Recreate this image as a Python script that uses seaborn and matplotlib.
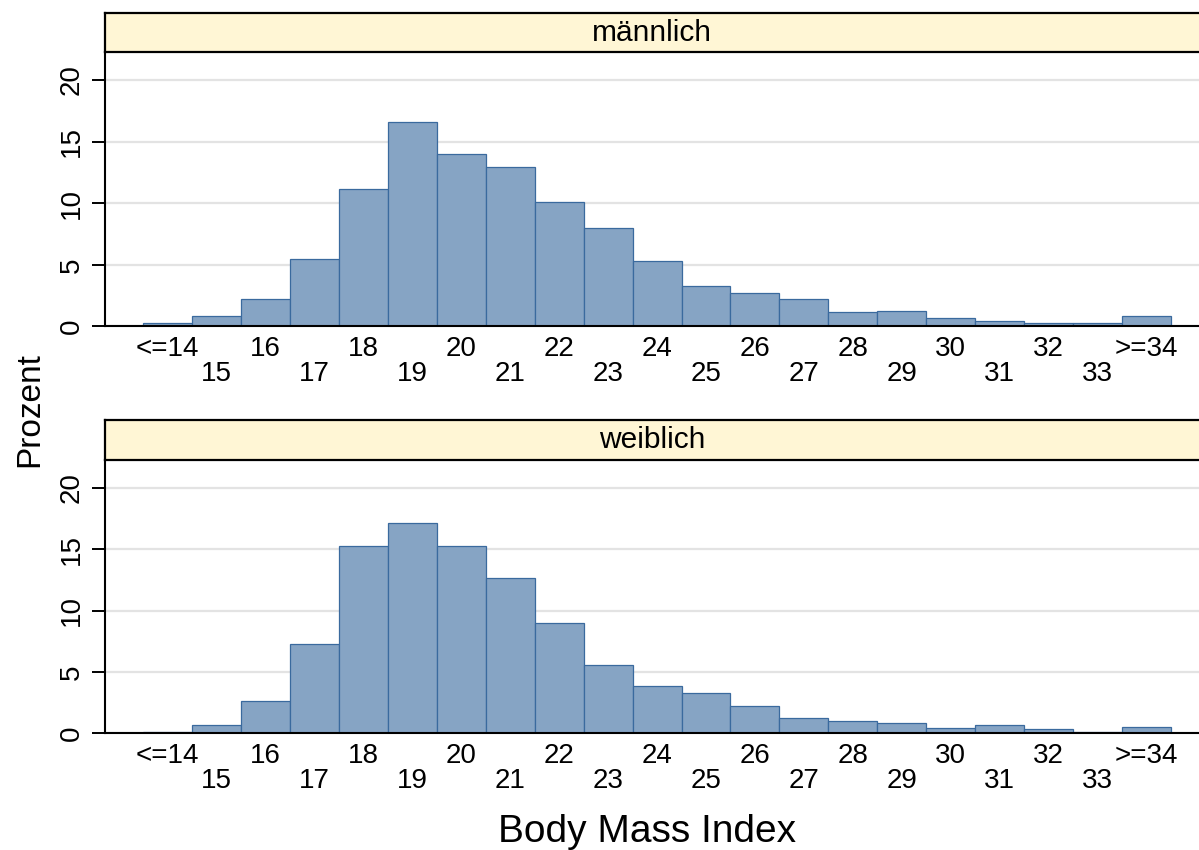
import matplotlib
matplotlib.use('Agg')
import matplotlib.pyplot as plt
import seaborn as sns
import pandas as pd

# BMI classes (percent per class)
bmi_labels = ['<=14', '15', '16', '17', '18', '19', '20', '21', '22', '23', '24',
              '25', '26', '27', '28', '29', '30', '31', '32', '33', '>=34']
pct_maennlich = [0.31, 0.85, 2.2, 5.5, 11.15, 16.6, 14.0, 12.9, 10.1, 8.0, 5.3,
                 3.3, 2.7, 2.2, 1.18, 1.23, 0.69, 0.45, 0.31, 0.31, 0.85]
pct_weiblich = [0.1, 0.68, 2.63, 7.26, 15.28, 17.1, 15.23, 12.66, 9.02, 5.56, 3.85,
                3.25, 2.22, 1.27, 1.03, 0.84, 0.46, 0.65, 0.33, 0.08, 0.49]
panels = ['männlich', 'weiblich']
y_ticks = [0, 5, 10, 15, 20]

df = pd.DataFrame({
    'bmi': bmi_labels * 2,
    'prozent': pct_maennlich + pct_weiblich,
    'geschlecht': [panels[0]] * len(bmi_labels) + [panels[1]] * len(bmi_labels),
})

sns.set_theme(style='white')
plt.rcParams['font.family'] = ['Liberation Sans', 'DejaVu Sans']
plt.rcParams['text.color'] = 'black'
plt.rcParams['xtick.color'] = 'black'
plt.rcParams['ytick.color'] = 'black'

fill = '#86a4c4'
edge = '#3a6a9e'
strip_color = '#fff6d5'

fig = plt.figure(figsize=(11.99, 8.5), dpi=100)

# axes layout in figure fractions: (plot bottom, plot top, strip top)
layout = [(0.6159, 0.9388, 0.9847), (0.1373, 0.4588, 0.5059)]
left, right = 0.0876, 1.0

for name, (bot, top, stop) in zip(panels, layout):
    ax = fig.add_axes([left, bot, right - left, top - bot])
    sub = df[df['geschlecht'] == name]
    sns.barplot(data=sub, x='bmi', y='prozent', order=bmi_labels, ax=ax,
                width=1, color=fill, saturation=1, edgecolor=edge, linewidth=0.9)
    ax.set_xlim(-1.276, 21.07)
    ax.set_ylim(0, 22.26)
    ax.set_yticks(y_ticks)
    ax.set_yticklabels([str(t) for t in y_ticks], rotation=90, va='center', fontsize=20)
    ax.yaxis.grid(True, color='#e3e3e3', linewidth=1.6)
    ax.set_axisbelow(True)
    ax.tick_params(axis='y', length=9.5, width=1.4, color='black', pad=5, left=True)
    ax.tick_params(axis='x', length=0, pad=7)
    ax.set_xticks(range(len(bmi_labels)))
    ax.set_xticklabels([lab if i % 2 == 0 else '\n' + lab for i, lab in enumerate(bmi_labels)],
                       fontsize=20)
    for t in ax.get_xticklabels():
        t.set_linespacing(0.95)
    ax.set_xlabel('')
    ax.set_ylabel('')
    for s in ['top', 'right']:
        ax.spines[s].set_visible(False)
    ax.spines['left'].set_color('black')
    ax.spines['left'].set_linewidth(1.5)
    ax.spines['bottom'].set_color('black')
    ax.spines['bottom'].set_linewidth(1.5)

    # strip with panel title
    sax = fig.add_axes([left, top, right - left, stop - top])
    sax.set_facecolor(strip_color)
    sax.set_xticks([])
    sax.set_yticks([])
    for s in ['top', 'bottom', 'left']:
        sax.spines[s].set_color('black')
        sax.spines[s].set_linewidth(1.6)
    sax.spines['right'].set_visible(False)
    sax.text(0.5, 0.5, name, ha='center', va='center', fontsize=21.5, transform=sax.transAxes)

fig.text(0.025, 0.518, 'Prozent', rotation=90, ha='center', va='center', fontsize=24)
fig.text(0.54, 0.021, 'Body Mass Index', ha='center', va='center', fontsize=28)

fig.savefig('out.png', dpi=100)
